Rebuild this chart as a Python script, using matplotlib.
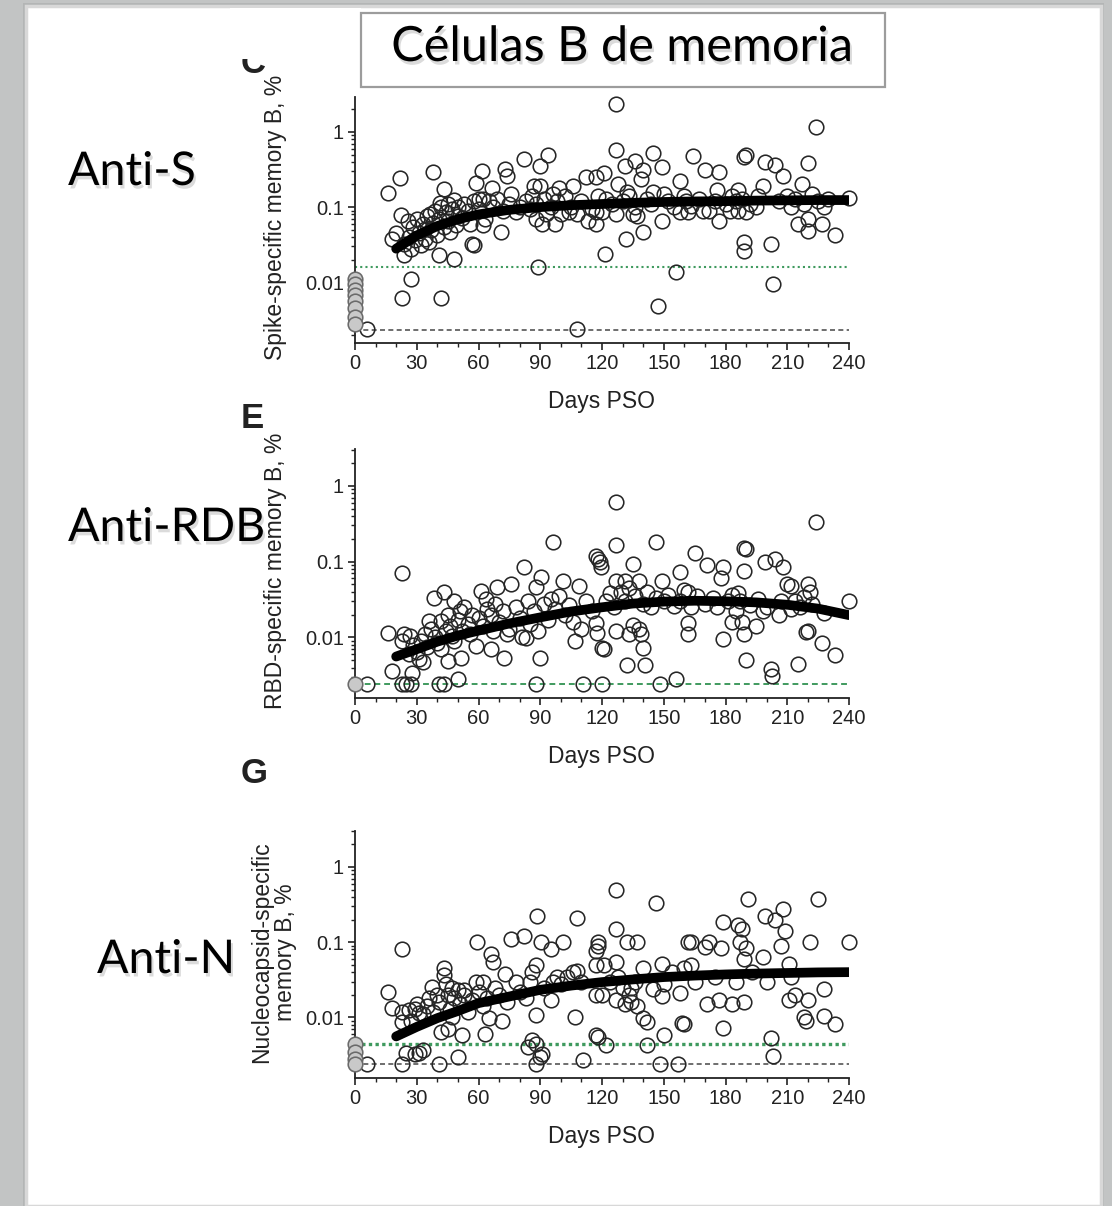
import numpy as np
import matplotlib.pyplot as plt
from matplotlib.patches import Rectangle
from matplotlib.ticker import FixedLocator, LogLocator, NullFormatter, MultipleLocator
import matplotlib.patheffects as pe

plt.rcParams['font.family'] = ['Liberation Sans', 'DejaVu Sans']

# ---- data: (days PSO, % memory B) ----
spike_pts = [
    (0, 0.011), (0, 0.0095), (0, 0.008), (0, 0.0068), (0, 0.0056), (0, 0.0045), (0, 0.0035), (0, 0.0028),
    (6, 0.0024), (16, 0.152), (22, 0.247), (18, 0.038), (22.5, 0.078), (25.6, 0.066), (24, 0.023), (27, 0.011),
    (23, 0.0062), (42, 0.0062), (38, 0.297), (43, 0.174), (41.5, 0.115), (36.6, 0.081), (34, 0.051), (32, 0.031),
    (36, 0.034), (41, 0.023), (48, 0.0204), (45, 0.11), (48, 0.126), (50, 0.077), (57, 0.032), (58, 0.031),
    (59, 0.21), (61.5, 0.30), (60, 0.13), (62, 0.13), (62, 0.057), (66.7, 0.18), (70.8, 0.047), (73, 0.32),
    (74, 0.26), (76, 0.15), (82, 0.43), (90, 0.35), (94, 0.5), (89, 0.016), (87, 0.19), (90, 0.19), (88, 0.07),
    (91, 0.06), (97, 0.06), (93, 0.08), (99, 0.18), (106, 0.19), (100, 0.08), (104, 0.085), (108, 0.08),
    (108, 0.0024), (112, 0.25), (113, 0.065),
    (20, 0.045), (24, 0.032), (26, 0.04), (27, 0.028), (28, 0.055), (29, 0.036), (30, 0.07), (31, 0.045),
    (33, 0.06), (34, 0.038), (35, 0.075), (37, 0.05), (38, 0.062), (39, 0.09), (40, 0.042), (41, 0.07),
    (42, 0.1), (43, 0.055), (44, 0.085), (45, 0.065), (46, 0.047), (47, 0.095), (49, 0.058), (50, 0.1),
    (52, 0.072), (53, 0.11), (55, 0.09), (56, 0.06), (58, 0.12), (60, 0.095), (63, 0.07), (65, 0.12),
    (67, 0.1), (69, 0.13), (72, 0.09), (75, 0.11), (78, 0.085), (80, 0.1), (83, 0.12), (85, 0.095),
    (86, 0.14), (88, 0.11), (92, 0.13), (95, 0.1), (96, 0.15), (98, 0.12), (102, 0.14), (105, 0.1),
    (110, 0.12), (115, 0.095), (118, 0.14), (120, 0.085),
    (127, 2.36), (127, 0.57), (117, 0.25), (121, 0.28), (131, 0.35), (136, 0.41), (140, 0.31), (145, 0.53),
    (149, 0.34), (139, 0.235), (128, 0.2), (132, 0.16), (145, 0.16), (150, 0.15), (158, 0.22), (164, 0.48),
    (170, 0.31), (177, 0.29), (176, 0.17), (186, 0.17), (189, 0.47), (190, 0.49), (199, 0.4), (204, 0.36),
    (208, 0.26), (220, 0.39), (224, 1.17), (217, 0.2), (198, 0.19), (240, 0.134), (117, 0.085), (117, 0.06),
    (121.5, 0.024), (127, 0.08), (131.5, 0.038), (135, 0.08), (137, 0.075), (140, 0.047), (149, 0.066),
    (156, 0.0136), (147, 0.0049), (158, 0.085), (162, 0.085), (169, 0.09), (172, 0.09), (177, 0.066),
    (182, 0.09), (186, 0.09), (190, 0.085), (189, 0.034), (189, 0.026), (202, 0.032), (203, 0.0096),
    (212, 0.1), (215, 0.06), (220, 0.048), (220, 0.07), (227, 0.06), (233, 0.042), (228, 0.1), (195, 0.1),
    (122, 0.13), (125, 0.11), (130, 0.12), (133, 0.14), (136, 0.1), (142, 0.13), (144, 0.11), (152, 0.12),
    (155, 0.1), (160, 0.14), (161, 0.12), (163, 0.105), (167, 0.13), (175, 0.12), (180, 0.11), (183, 0.14),
    (185, 0.12), (188, 0.13), (192, 0.11), (196, 0.14), (206, 0.12), (210, 0.14), (214, 0.13), (218, 0.11),
    (222, 0.15), (225, 0.12), (230, 0.13),
]

rbd_pts = [
    (0, 0.0024), (6, 0.0024), (16, 0.0114), (18, 0.0036), (22.8, 0.07), (22.7, 0.009), (24, 0.011),
    (26.5, 0.0105), (23, 0.0024), (25, 0.0024), (27, 0.0024), (27.5, 0.0034), (31, 0.0052), (33, 0.0047),
    (36, 0.0165), (38.5, 0.033), (43, 0.04), (42, 0.0165), (42, 0.007), (41, 0.0024), (43, 0.0024),
    (45, 0.0049), (47, 0.0105), (49.8, 0.0028), (51.5, 0.0054), (48, 0.03), (51, 0.022), (50, 0.017),
    (57, 0.02), (58.7, 0.0077), (61, 0.041), (63.5, 0.032), (66, 0.007), (69, 0.046), (72.5, 0.0054),
    (76, 0.051), (66, 0.02), (74, 0.011), (82, 0.084), (81, 0.01), (83, 0.0098), (88, 0.046), (90.5, 0.062),
    (90, 0.0054), (88, 0.0024), (96, 0.18), (95, 0.032), (101, 0.055), (108.6, 0.047), (107, 0.009),
    (110, 0.013), (111, 0.0024), (120, 0.0024), (119, 0.1), (119.5, 0.084), (120, 0.0072),
    (26, 0.006), (28, 0.008), (30, 0.0065), (32, 0.009), (34, 0.011), (35, 0.0075), (37, 0.013), (39, 0.01),
    (40, 0.0085), (44, 0.012), (45, 0.02), (46, 0.014), (48, 0.009), (52, 0.012), (53, 0.025), (55, 0.015),
    (56, 0.011), (60, 0.018), (62, 0.014), (64, 0.024), (67, 0.012), (68, 0.028), (70, 0.016), (72, 0.022),
    (75, 0.013), (78, 0.025), (80, 0.018), (84, 0.03), (85, 0.015), (87, 0.022), (89, 0.012), (92, 0.028),
    (94, 0.017), (97, 0.024), (99, 0.035), (102, 0.02), (104, 0.027), (106, 0.016), (112, 0.03), (115, 0.022),
    (127, 0.62), (127, 0.166), (146, 0.18), (117, 0.12), (118, 0.11), (135, 0.093), (138, 0.055), (127, 0.055),
    (131, 0.055), (149, 0.056), (158, 0.074), (165, 0.13), (171, 0.09), (179, 0.085), (178, 0.06),
    (189, 0.076), (189, 0.15), (190, 0.148), (199, 0.1), (204, 0.11), (208, 0.085), (210, 0.05), (212, 0.047),
    (220, 0.05), (221, 0.04), (224, 0.33), (240, 0.03), (117, 0.0157), (117.5, 0.0116), (121, 0.007),
    (127, 0.0122), (133, 0.011), (135, 0.0145), (138, 0.013), (139, 0.011), (140, 0.0073), (132, 0.0043),
    (141, 0.0043), (148, 0.0024), (156, 0.0028), (162, 0.011), (162, 0.0155), (179, 0.0096), (183, 0.016),
    (188, 0.016), (189, 0.011), (195, 0.014), (190, 0.005), (202, 0.0038), (202.5, 0.0031), (215, 0.0045),
    (219, 0.0117), (220, 0.012), (227, 0.0085), (233, 0.0058), (198, 0.022), (206, 0.02), (212, 0.024),
    (216, 0.025), (228, 0.021), (183, 0.036), (186, 0.038), (162, 0.04), (160, 0.042),
    (122, 0.03), (124, 0.038), (126, 0.025), (129, 0.04), (131, 0.03), (133, 0.045), (136, 0.035),
    (140, 0.028), (142, 0.04), (144, 0.025), (146, 0.033), (150, 0.03), (152, 0.036), (155, 0.026),
    (158, 0.03), (163, 0.025), (166, 0.035), (170, 0.028), (174, 0.033), (176, 0.025), (181, 0.03),
    (185, 0.022), (187, 0.03), (192, 0.027), (196, 0.032), (200, 0.025), (207, 0.03), (214, 0.03),
    (218, 0.034), (222, 0.028),
]

ncap_pts = [
    (0, 0.0045), (0, 0.0035), (0, 0.0028), (0, 0.0024),
    (6, 0.0024), (16, 0.022), (18, 0.0134), (22.7, 0.081), (22.6, 0.0086), (23, 0.012), (26, 0.0125),
    (29, 0.013), (31, 0.0115), (23, 0.0024), (25, 0.0034), (29, 0.0033), (31, 0.0034), (33, 0.0037),
    (37.5, 0.0255), (43, 0.045), (43, 0.037), (41, 0.0024), (42, 0.0065), (45, 0.007), (47, 0.01),
    (50, 0.003), (45, 0.02), (47, 0.025), (50, 0.023), (52, 0.0058), (52.8, 0.023), (59.5, 0.1), (59, 0.03),
    (62, 0.03), (63, 0.006), (66, 0.07), (67, 0.055), (65, 0.0098), (71.6, 0.0091), (73, 0.038), (76, 0.11),
    (82, 0.12), (88.5, 0.22), (90.5, 0.1), (88, 0.05), (86, 0.04), (88, 0.0108), (86, 0.005), (88, 0.0045),
    (84, 0.004), (90, 0.003), (91, 0.0033), (88, 0.0024), (95, 0.08), (95, 0.017), (101, 0.1), (98, 0.035),
    (108, 0.21), (106, 0.04), (108, 0.042), (107, 0.0102), (111, 0.0027), (118, 0.1), (118, 0.0055),
    (120, 0.02),
    (27, 0.009), (30, 0.015), (33, 0.011), (35, 0.014), (36, 0.018), (38, 0.012), (40, 0.02), (41, 0.016),
    (44, 0.028), (46, 0.013), (48, 0.018), (51, 0.015), (53, 0.02), (55, 0.012), (57, 0.017), (60, 0.022),
    (62, 0.014), (64, 0.018), (68, 0.025), (70, 0.02), (74, 0.016), (78, 0.03), (80, 0.022), (83, 0.018),
    (85, 0.03), (92, 0.025), (96, 0.03), (100, 0.028), (103, 0.035), (110, 0.03),
    (127, 0.5), (127, 0.15), (146, 0.33), (118, 0.09), (117, 0.077), (132, 0.1), (137, 0.1), (117, 0.05),
    (121, 0.05), (127, 0.055), (140, 0.045), (149, 0.051), (117, 0.0198), (127, 0.017), (131, 0.015),
    (134, 0.016), (137, 0.014), (140, 0.0098), (142, 0.0088), (134, 0.025), (145, 0.024), (149, 0.019),
    (117, 0.0058), (122, 0.0043), (142, 0.0043), (150, 0.0058), (148, 0.0024), (157, 0.0024), (158, 0.021),
    (159, 0.0085), (160, 0.0082), (162, 0.1), (163, 0.1), (170, 0.087), (172, 0.1), (178, 0.083),
    (179, 0.185), (171, 0.015), (177, 0.017), (183, 0.015), (189, 0.016), (179, 0.0073), (186, 0.17),
    (188, 0.15), (191, 0.38), (187, 0.1), (190, 0.085), (189, 0.06), (198, 0.063), (199, 0.22), (204, 0.2),
    (208, 0.28), (209, 0.14), (207, 0.09), (211, 0.052), (202, 0.0054), (203, 0.0031), (211, 0.017),
    (214, 0.02), (220, 0.017), (218, 0.01), (219, 0.009), (221, 0.1), (225, 0.38), (228, 0.024),
    (228, 0.0105), (233, 0.0082), (240, 0.1),
    (124, 0.03), (128, 0.035), (130, 0.025), (133, 0.02), (136, 0.03), (150, 0.028), (154, 0.04),
    (160, 0.045), (163, 0.05), (165, 0.03), (175, 0.035), (185, 0.03), (193, 0.04), (200, 0.03), (212, 0.035),
]

# fitted curves, read at these days
fit_days = [20, 30, 40, 50, 60, 75, 90, 105, 120, 135, 150, 165, 180, 195, 210, 225, 240]
spike_fit = [0.028, 0.042, 0.056, 0.069, 0.08, 0.092, 0.1, 0.106, 0.11, 0.114, 0.117, 0.119, 0.12, 0.122,
             0.123, 0.124, 0.124]
rbd_fit = [0.0056, 0.007, 0.0088, 0.0106, 0.0123, 0.0153, 0.0184, 0.022, 0.025, 0.028, 0.0297, 0.0305,
           0.030, 0.029, 0.027, 0.024, 0.0197]
ncap_fit = [0.0056, 0.0075, 0.0098, 0.0122, 0.0155, 0.019, 0.0233, 0.0265, 0.0295, 0.032, 0.0344, 0.036,
            0.0373, 0.0383, 0.039, 0.0397, 0.040]

# detection limits (green) and floor (black)
spike_lod, spike_floor = 0.0158, 0.0023
rbd_lod = 0.0024
ncap_lod, ncap_floor = 0.0044, 0.0024

ylabels = ["Spike-specific memory B, %", "RBD-specific memory B, %",
           "Nucleocapsid-specific\nmemory B, %"]
side_labels = ["Anti-S", "Anti-RDB", "Anti-N"]
title = "Células B de memoria"

# ---- figure ----
W, H = 1112, 1206
fig = plt.figure(figsize=(W / 100, H / 100), dpi=100)
fig.patch.set_facecolor('#c2c4c4')


def fx(x):
    return x / W


def fy(y):
    return 1 - y / H


# slide with a soft edge (drawn under the axes)
fig.patches.append(Rectangle((fx(23), 0), fx(1104) - fx(23), fy(3), transform=fig.transFigure,
                             facecolor='#b3b5b5', edgecolor='none', zorder=-2))
fig.patches.append(Rectangle((fx(26), 0), fx(1101) - fx(26), fy(6), transform=fig.transFigure,
                             facecolor='white', edgecolor='#d8d8d8', lw=2.5, zorder=-1))

GREEN = '#3f9a5e'
shadow = [pe.withSimplePatchShadow(offset=(1.5, -2.5), shadow_rgbFace='#888888', alpha=0.3)]


def panel(top, bottom, ymin, ymax, pts, fit, ylabel, lab_x, letter, letter_y):
    ax = fig.add_axes([fx(355), fy(bottom), fx(849) - fx(355), (bottom - top) / H])
    ax.set_facecolor('none')
    pts = np.array(pts)
    zero = pts[:, 0] == 0
    ax.plot(pts[~zero, 0], pts[~zero, 1], 'o', ms=10.5, mfc='none', mec='#262626', mew=1.15,
            clip_on=False, zorder=3)
    ax.plot(pts[zero, 0], pts[zero, 1], 'o', ms=10.5, mfc='#c9c9c9', mec='#6a6a6a', mew=1.15,
            clip_on=False, zorder=3)
    ax.plot(fit_days, fit, color='black', lw=7, solid_capstyle='round', zorder=4)
    ax.set_yscale('log')
    ax.set_xlim(0, 240)
    ax.set_ylim(ymin, ymax)
    ax.xaxis.set_major_locator(MultipleLocator(30))
    ax.xaxis.set_minor_locator(MultipleLocator(10))
    ax.yaxis.set_major_locator(FixedLocator([0.01, 0.1, 1]))
    ax.set_yticklabels(['0.01', '0.1', '1'])
    ax.yaxis.set_minor_locator(LogLocator(base=10, subs=np.arange(2, 10), numticks=20))
    ax.yaxis.set_minor_formatter(NullFormatter())
    for s in ['top', 'right']:
        ax.spines[s].set_visible(False)
    for s in ['left', 'bottom']:
        ax.spines[s].set_linewidth(1.3)
        ax.spines[s].set_color('#222222')
    ax.tick_params(which='major', direction='out', length=5, width=1.2, labelsize=14.5, pad=3,
                   color='#222222', labelcolor='#222222')
    ax.tick_params(which='minor', direction='out', length=3, width=1.0, color='#222222')
    h = bottom - top
    ax.text(lab_x, 0.51, ylabel, rotation=90, ha='center', va='center', fontsize=16.5,
            linespacing=1.05, color='#222222', transform=ax.transAxes)
    ax.text(0.5, -58.5 / h, 'Days PSO', ha='center', va='center', fontsize=16.5,
            color='#222222', transform=ax.transAxes)
    fig.text(fx(241), fy(letter_y), letter, ha='left', va='baseline', fontsize=25,
             fontweight='bold', color='#222222')
    return ax


ax1 = panel(97, 343, 0.00156, 2.91, spike_pts, spike_fit, ylabels[0], -0.16, 'C', 73)
ax1.axhline(spike_lod, color=GREEN, lw=1.5, ls=(0, (1, 1.5)), zorder=2)
ax1.axhline(spike_floor, color='#555555', lw=1.2, ls=(0, (3, 2)), zorder=2)

ax2 = panel(449, 698, 0.00159, 3.06, rbd_pts, rbd_fit, ylabels[1], -0.16, 'E', 428)
ax2.axhline(rbd_lod, color=GREEN, lw=1.4, ls=(0, (3, 2)), zorder=2)

ax3 = panel(831, 1078, 0.00157, 3.0, ncap_pts, ncap_fit, ylabels[2], -0.165, 'G', 783)
ax3.axhline(ncap_lod, color=GREEN, lw=2.4, ls=(0, (1, 1)), zorder=2)
ax3.axhline(ncap_floor, color='#555555', lw=1.2, ls=(0, (3, 2)), zorder=2)

# the source picture is cut off above the first panel letter
fig.patches.append(Rectangle((fx(230), fy(59)), fx(361) - fx(230), fy(8) - fy(59),
                             transform=fig.transFigure, facecolor='white', edgecolor='none', zorder=10))

# title box
fig.patches.append(Rectangle((fx(361), fy(87)), fx(885) - fx(361), fy(13) - fy(87),
                             transform=fig.transFigure, facecolor='white', edgecolor='#9c9c9c',
                             lw=1.6, zorder=11))
fig.text(fx(622), fy(47), title, ha='center', va='center', fontsize=35, family='Lato', zorder=12,
         path_effects=shadow)

# side labels
for lbl, x, y in zip(side_labels, [68, 68, 97], [172, 528, 960]):
    fig.text(fx(x), fy(y), lbl, ha='left', va='center', fontsize=33.5, family='Lato',
             path_effects=shadow)

fig.savefig('out.png', dpi=100, facecolor=fig.get_facecolor())
